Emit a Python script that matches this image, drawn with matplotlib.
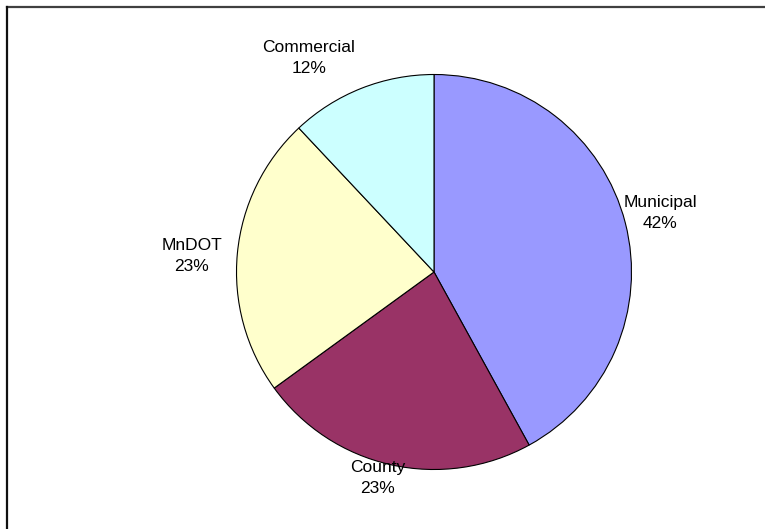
import matplotlib.pyplot as plt
from matplotlib.lines import Line2D

labels = ['Municipal', 'County', 'MnDOT', 'Commercial']
shares = [42, 23, 23, 12]
colors = ['#9999FF', '#993366', '#FFFFCC', '#CCFFFF']
label_pos = [(660, 316), (378, 51), (192, 273), (309, 471)]

W, H = 765, 529
fig = plt.figure(figsize=(W / 100, H / 100), dpi=100)
ax = fig.add_axes([0, 0, 1, 1])

ax.pie(shares, colors=colors, startangle=90, counterclock=False,
       center=(434, 257), radius=197.5,
       wedgeprops=dict(edgecolor='black', linewidth=0.8))
ax.set_xlim(0, W)
ax.set_ylim(0, H)
ax.set_aspect('equal')
ax.axis('off')

for name, val, (x, y) in zip(labels, shares, label_pos):
    ax.text(x, y, f'{name}\n{val}%', ha='center', va='center',
            fontsize=12.5, family='Liberation Sans', linespacing=1.5)

# chart frame (only top and left edges fall inside the image)
fig.add_artist(Line2D([7 / W, 1], [1 - 7 / H, 1 - 7 / H], color='#404040', lw=1.6,
                      transform=fig.transFigure))
fig.add_artist(Line2D([7 / W, 7 / W], [0, 1 - 7 / H], color='#101010', lw=1.6,
                      transform=fig.transFigure))

fig.savefig('out.png', dpi=100, facecolor='white')
